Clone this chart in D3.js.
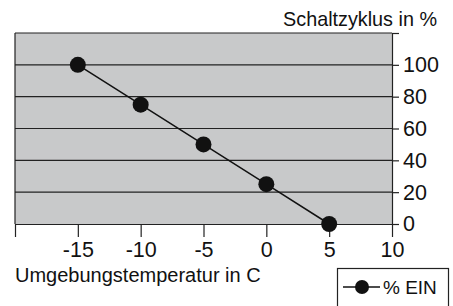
<!DOCTYPE html>
<html>
<head>
<meta charset="utf-8">
<script src="https://cdn.jsdelivr.net/npm/d3@7"></script>
<style>
  body { margin: 0; background: #fff; }
  svg { display: block; font-family: "Liberation Sans", Arial, sans-serif; }
</style>
</head>
<body>
<svg id="chart" width="453" height="306"></svg>
<script>
// data
const temps = [-15, -10, -5, 0, 5];
const dutyCycle = [100, 75, 50, 25, 0];
const xTicks = [-20, -15, -10, -5, 0, 5, 10];
const yTicks = [0, 20, 40, 60, 80, 100, 120];
const seriesName = '% EIN';

const svg = d3.select('#chart');

const x = d3.scaleLinear().domain([-20, 10]).range([15, 392]);
const y = d3.scaleLinear().domain([0, 120]).range([224, 33]);

// plot background
svg.append('rect')
  .attr('x', x(-20)).attr('y', y(120))
  .attr('width', x(10) - x(-20)).attr('height', y(0) - y(120))
  .attr('fill', '#c8c9ca');

// horizontal grid lines (incl. top border)
svg.append('g')
  .selectAll('line')
  .data(yTicks.filter(v => v > 0))
  .join('line')
  .attr('x1', x(-20)).attr('x2', x(10))
  .attr('y1', d => y(d)).attr('y2', d => y(d))
  .attr('stroke', '#222').attr('stroke-width', 1.2);

// left border
svg.append('line')
  .attr('x1', x(-20)).attr('x2', x(-20))
  .attr('y1', y(120)).attr('y2', y(0))
  .attr('stroke', '#222').attr('stroke-width', 1.2);

// x axis
const xAxis = svg.append('g')
  .attr('transform', `translate(0,${y(0)})`)
  .call(d3.axisBottom(x)
    .tickValues(xTicks)
    .tickSize(13)
    .tickSizeOuter(0)
    .tickPadding(5)
    .tickFormat(d => d === -20 ? '' : d));

// y axis on right
const yAxis = svg.append('g')
  .attr('transform', `translate(${x(10)},0)`)
  .call(d3.axisRight(y)
    .tickValues(yTicks)
    .tickSize(7)
    .tickSizeOuter(0)
    .tickPadding(4)
    .tickFormat(d => d === 120 ? '' : d));

[xAxis, yAxis].forEach(g => {
  g.select('.domain').attr('stroke', '#222').attr('stroke-width', 1.2);
  g.selectAll('.tick line').attr('stroke', '#222').attr('stroke-width', 1.2);
  g.selectAll('.tick text')
    .attr('fill', '#111')
    .style('font-size', '21.5px')
    .style('font-family', '"Liberation Sans", Arial, sans-serif');
});

// series
const pts = temps.map((t, i) => [t, dutyCycle[i]]);
svg.append('path')
  .datum(pts)
  .attr('fill', 'none')
  .attr('stroke', '#111')
  .attr('stroke-width', 1.5)
  .attr('d', d3.line().x(d => x(d[0])).y(d => y(d[1])));

svg.append('g')
  .selectAll('circle')
  .data(pts)
  .join('circle')
  .attr('cx', d => x(d[0]))
  .attr('cy', d => y(d[1]))
  .attr('r', 8)
  .attr('fill', '#111');

// axis titles
svg.append('text')
  .attr('x', 437).attr('y', 26)
  .attr('text-anchor', 'end')
  .style('font-size', '19.8px')
  .attr('fill', '#111')
  .text('Schaltzyklus in %');

svg.append('text')
  .attr('x', 15).attr('y', 282)
  .style('font-size', '20px')
  .attr('fill', '#111')
  .text('Umgebungstemperatur in C');

// legend
const leg = svg.append('g');
leg.append('rect')
  .attr('x', 337.5).attr('y', 268.5)
  .attr('width', 111).attr('height', 40)
  .attr('fill', '#fff')
  .attr('stroke', '#222').attr('stroke-width', 1.2);
leg.append('line')
  .attr('x1', 343).attr('x2', 380)
  .attr('y1', 287).attr('y2', 287)
  .attr('stroke', '#111').attr('stroke-width', 1.5);
leg.append('circle')
  .attr('cx', 362).attr('cy', 287).attr('r', 7)
  .attr('fill', '#111');
leg.append('text')
  .attr('x', 383).attr('y', 294)
  .style('font-size', '19px')
  .attr('fill', '#111')
  .text(seriesName);
</script>
</body>
</html>
